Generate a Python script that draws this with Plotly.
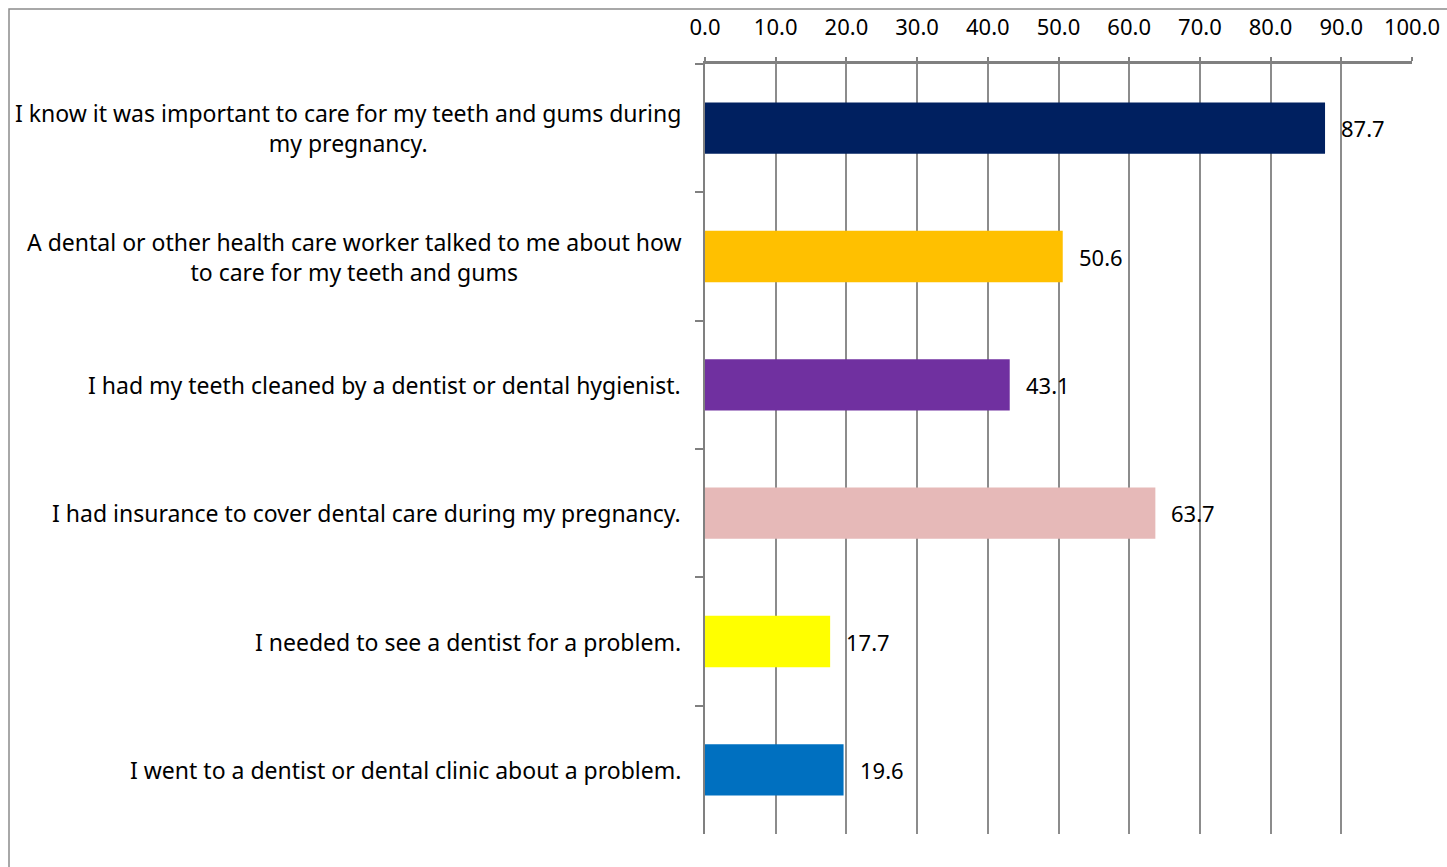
import plotly.graph_objects as go

categories = [
    "I know it was important to care for my teeth and gums during<br>my pregnancy.",
    "A dental or other health care worker talked to me about how<br>to care for my teeth and gums",
    "I had my teeth cleaned by a dentist or dental hygienist.",
    "I had insurance to cover dental care during my pregnancy.",
    "I needed to see a dentist for a problem.",
    "I went to a dentist or dental clinic about a problem.",
]
values = [87.7, 50.6, 43.1, 63.7, 17.7, 19.6]
colors = ["#002060", "#FFC000", "#7030A0", "#E6B9B8", "#FFFF00", "#0070C0"]
tick_vals = [0, 10, 20, 30, 40, 50, 60, 70, 80, 90, 100]
tick_text = [f"{v:.1f}" for v in tick_vals]

FONT = "Noto Sans"
FS = 23
W, H = 1447, 867
L, R, T, B = 705, 35, 64, 33

fig = go.Figure()
fig.add_trace(go.Bar(
    y=categories, x=values, orientation="h",
    marker=dict(color=colors, line=dict(width=0)),
    width=0.4, showlegend=False, hoverinfo="x+y",
))

ann = []
for c, v in zip(categories, values):
    ann.append(dict(x=v, y=c, xref="x", yref="y", text=f"{v:.1f}", showarrow=False,
                    xanchor="left", xshift=14, font=dict(family=FONT, size=FS - 1, color="#000")))
    ann.append(dict(x=0, y=c, xref="paper", yref="y", text=c, showarrow=False,
                    xanchor="right", xshift=-22, align="center",
                    font=dict(family=FONT, size=FS, color="#000")))

pw = W - L - R
ph = H - T - B

fig.update_layout(
    width=W, height=H,
    margin=dict(l=L, r=R, t=T, b=B, autoexpand=False),
    paper_bgcolor="white", plot_bgcolor="white",
    font=dict(family=FONT, size=FS, color="#000"),
    bargap=0.6,
    annotations=ann,
    shapes=[dict(type="rect", xref="paper", yref="paper",
                 x0=(9 - L) / pw, x1=(1460 - L) / pw,
                 y0=-(B + 20) / ph, y1=1 + (T - 9) / ph,
                 line=dict(color="#8c8c8c", width=1.5), fillcolor="rgba(0,0,0,0)", layer="below")],
    xaxis=dict(
        side="top", range=[0, 100], tickvals=tick_vals, ticktext=tick_text,
        showgrid=True, gridcolor="#8c8c8c", gridwidth=1.5,
        showline=True, linecolor="#808080", linewidth=2.5,
        ticks="outside", ticklen=4, tickcolor="#808080", tickwidth=1.5,
        zeroline=False, tickfont=dict(family=FONT, size=FS - 1, color="#000"),
        ticklabelstandoff=13, automargin=False,
    ),
    yaxis=dict(
        autorange="reversed", showticklabels=False, automargin=False,
        showline=True, linecolor="#808080", linewidth=2,
        ticks="outside", tickson="boundaries", ticklen=8, tickcolor="#808080", tickwidth=1.5,
        showgrid=False, zeroline=False,
    ),
)

fig.write_html("out.html", config={"displayModeBar": False},
               post_script="document.body.style.margin='0';document.body.style.overflow='hidden';")
